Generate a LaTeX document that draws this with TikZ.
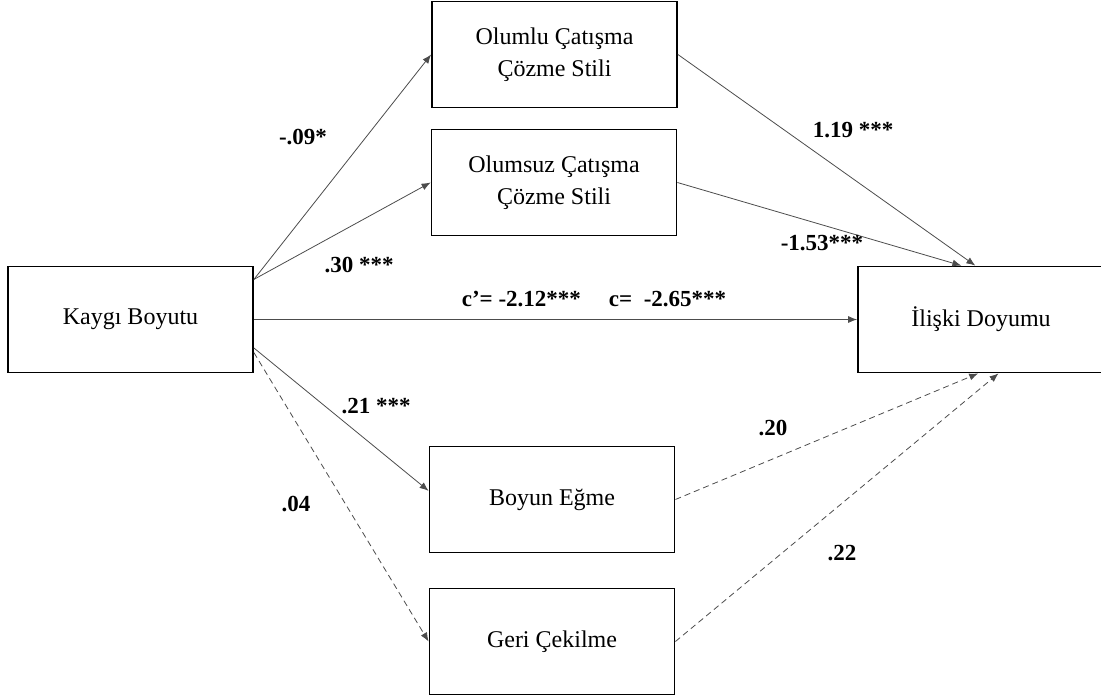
\documentclass[tikz,border=0pt]{standalone}
\usepackage{fontspec}
\setmainfont{Liberation Serif}
\usetikzlibrary{arrows.meta}
\tikzstyle{box} = [rectangle, minimum width=245pt, minimum height=106pt, text centered, align=center, draw=black, line width=1.8pt, font=\fontsize{24}{32}\selectfont]
\tikzstyle{arrow} = [draw=black!70, line width=0.8pt, -{Latex[length=9pt,width=7pt]}]
\tikzstyle{coef} = [font=\fontsize{23}{28}\selectfont\bfseries]
\tikzstyle{ns} = [dash pattern=on 6pt off 4pt]
\begin{document}
\begin{tikzpicture}[x=1pt, y=-1pt]
          \useasboundingbox (0,0) rectangle (1101,697);
          \node (kaygi) [box] at (130.5,319.5) {Kaygı Boyutu};
          \node (olumlu) [box] at (554.5,54.5) {Olumlu Çatışma\\Çözme Stili};
          \node (olumsuz) [box] at (554,182.5) {Olumsuz Çatışma\\Çözme Stili};
          \node (boyun) [box] at (552,499.5) {Boyun Eğme};
          \node (geri) [box] at (552,641.5) {Geri Çekilme};
          \node (iliski) [box, minimum width=246pt] at (981,319.5) {İlişki Doyumu};
          \draw [arrow] (kaygi.18) -- (olumlu.west);
          \draw [arrow] (kaygi.18) -- (olumsuz.west);
          \draw [arrow] (kaygi.east) -- (iliski.west);
          \draw [arrow] (kaygi.-13) -- (boyun.176);
          \draw [arrow, ns] (kaygi.-15) -- (geri.west);
          \draw [arrow] (olumlu.east) -- (iliski.96);
          \draw [arrow] (olumsuz.east) -- (iliski.110);
          \draw [arrow, ns] (boyun.east) -- (iliski.267);
          \draw [arrow, ns] (geri.east) -- (iliski.-72);
          \node (a1) [coef] at (303,137) {-.09*};
          \node (a2) [coef] at (359,265) {.30 ***};
          \node (c) [coef] at (594,299) {c’= -2.12***\hspace{28pt}c=\ \ -2.65***};
          \node (b1) [coef] at (853,130) {1.19 ***};
          \node (b2) [coef] at (822,243) {-1.53***};
          \node (a3) [coef] at (376,406) {.21 ***};
          \node (a4) [coef] at (296,504) {.04};
          \node (b3) [coef] at (773,428) {.20};
          \node (b4) [coef] at (842,553) {.22};
        \end{tikzpicture}
\end{document}
